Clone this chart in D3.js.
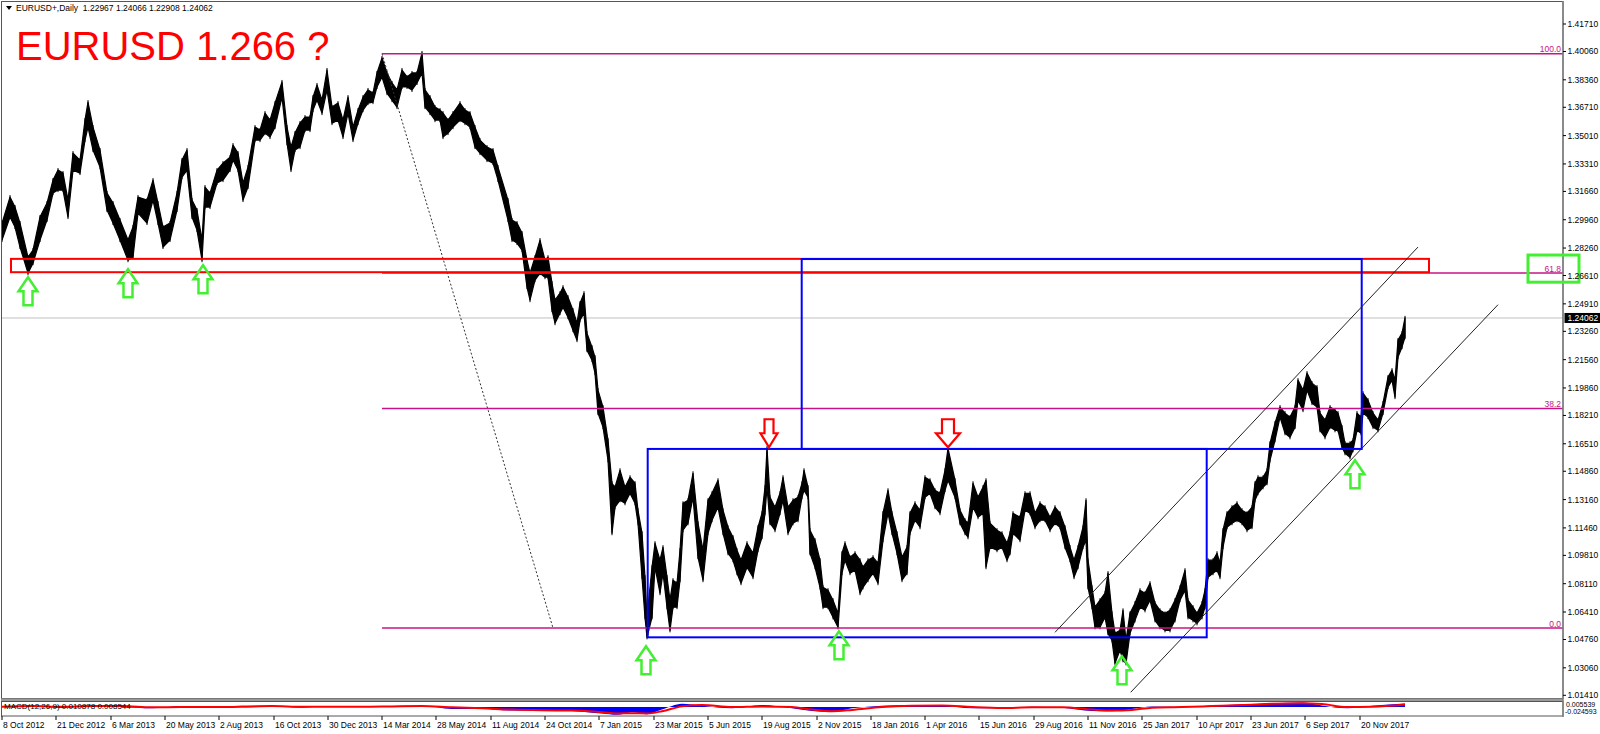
<!DOCTYPE html>
<html><head><meta charset="utf-8">
<script src="https://cdn.jsdelivr.net/npm/d3@7"></script>
<style>
body{margin:0;background:#fff;}
svg{display:block;}
text{font-family:"Liberation Sans",Arial,sans-serif;}
</style></head>
<body><svg id="c" width="1600" height="734"></svg>
<script>
// ---------------- DATA ----------------
const symbolTitle = "EURUSD+,Daily  1.22967 1.24066 1.22908 1.24062";
const headline = "EURUSD 1.266 ?";
const lastClose = 1.24062;

// bar number (daily bars counted from 8 Oct 2012), sampled envelope highs / lows
const bars = [
 0,8,13,18,26,31,38,45,51,56,61,66,71,78,83,86,91,98,105,111,118,126,131,136,145,151,156,161,168,175,180,185,190,195,200,203,208,215,221,228,231,236,241,246,
 253,258,263,268,273,280,285,289,293,298,303,308,311,315,320,325,330,336,341,346,351,356,361,366,371,375,380,385,390,395,400,405,410,415,420,423,428,433,438,441,446,451,458,463,468,473,478,485,491,496,
 506,510,515,520,525,528,533,538,543,546,550,553,558,561,566,571,575,578,582,585,590,593,596,601,606,610,613,618,623,628,633,636,640,643,645,650,653,658,661,665,668,671,675,678,681,686,691,696,701,706,
 710,716,721,726,731,735,739,745,751,756,760,763,765,768,773,778,781,786,791,796,800,802,806,808,813,818,821,826,831,836,840,843,848,853,858,861,866,871,876,881,886,890,895,900,905,908,913,918,923,928,933,938,943,946,
 953,958,963,966,971,976,981,984,988,995,1000,1005,1008,1011,1018,1023,1028,1033,1038,1043,1048,1053,1058,1063,1068,1072,1076,1081,1084,1086,1090,1093,1098,1103,1106,1110,1113,1118,1121,1124,1128,1133,1138,1143,1148,1153,1158,1163,1168,
 1173,1178,1183,1186,1191,1195,1200,1203,1206,1211,1215,1218,1221,1225,1230,1235,1240,1245,1250,1253,1256,1261,1265,1268,1273,1278,1283,1288,1293,1296,1301,1305,1310,1315,1318,1323,1328,1333,1336,1340,1343,1348,1351,1355,1359,1361,1366,1371,1376,1381,1386,1390,1393,1396,1400,1403
];
const highs = [
 1.2976,1.3132,1.3072,1.2976,1.2771,1.2814,1.3012,1.3096,1.3234,1.3294,1.3276,1.3114,1.3396,1.3354,1.3594,1.3702,1.3552,1.3414,1.3156,1.3096,1.2994,1.2874,1.2952,1.3132,1.3114,1.3234,1.3096,1.2952,1.2976,1.3156,1.3354,1.3414,1.3114,1.3054,1.2874,1.3192,1.3156,1.3294,1.3336,1.3372,1.3444,1.3396,1.3216,1.3312,
 1.3552,1.3534,1.3636,1.3594,1.3696,1.3823,1.3552,1.3432,1.3516,1.3576,1.3612,1.3612,1.3732,1.3805,1.3714,1.3895,1.3672,1.3696,1.3594,1.3732,1.3552,1.3654,1.3732,1.3775,1.3756,1.3877,1.3967,1.3877,1.3817,1.3775,1.3895,1.3853,1.3877,1.3877,1.3997,1.3775,1.3732,1.3672,1.3654,1.3636,1.3594,1.3636,1.3696,1.3654,1.3636,1.3552,1.3474,1.3432,1.3414,1.3312,
 1.3114,1.2994,1.2976,1.2916,1.2753,1.2675,1.2771,1.2874,1.2753,1.2771,1.2615,1.2513,1.2555,1.2591,1.2531,1.2453,1.2375,1.2495,1.2555,1.2315,1.2231,1.2171,1.1973,1.1871,1.1672,1.1414,1.1390,1.1492,1.1390,1.1450,1.1414,1.1252,1.1114,1.0850,1.0609,1.0910,1.1054,1.0952,1.1030,1.0850,1.0712,1.0832,1.0814,1.1012,1.1294,1.1312,1.1474,1.1174,1.1012,1.1312,
 1.1354,1.1432,1.1252,1.1150,1.1090,1.1012,1.0952,1.1054,1.0994,1.1150,1.1234,1.1390,1.1625,1.1330,1.1270,1.1354,1.1450,1.1270,1.1312,1.1330,1.1414,1.1492,1.1390,1.1132,1.1072,1.0952,1.0789,1.0772,1.0712,1.0633,1.0994,1.1054,1.0970,1.0994,1.0952,1.0910,1.0952,1.0970,1.0934,1.1234,1.1372,1.1234,1.1114,1.0970,1.1030,1.1234,1.1294,1.1252,1.1450,1.1432,1.1372,1.1354,1.1492,1.1624,
 1.1432,1.1252,1.1192,1.1174,1.1414,1.1330,1.1390,1.1432,1.1174,1.1132,1.1114,1.1054,1.1114,1.1234,1.1210,1.1354,1.1354,1.1234,1.1294,1.1270,1.1210,1.1270,1.1234,1.1150,1.1030,1.0952,1.1030,1.1150,1.1312,1.0952,1.0789,1.0670,1.0712,1.0754,1.0874,1.0633,1.0513,1.0531,1.0651,1.0471,1.0633,1.0694,1.0772,1.0754,1.0814,1.0694,1.0651,1.0633,1.0651,
 1.0712,1.0789,1.0892,1.0712,1.0670,1.0633,1.0694,1.0772,1.0952,1.0952,1.0994,1.0934,1.1132,1.1234,1.1270,1.1294,1.1252,1.1234,1.1270,1.1414,1.1450,1.1450,1.1492,1.1654,1.1775,1.1871,1.1835,1.1811,1.1871,1.2033,1.1973,1.2075,1.2015,1.1991,1.1835,1.1793,1.1871,1.1853,1.1835,1.1751,1.1654,1.1654,1.1672,1.1835,1.1811,1.1955,1.1913,1.1835,1.1793,1.1895,1.2051,1.2093,1.2033,1.2273,1.2315,1.2407
];
const lows = [
 1.2874,1.3012,1.2952,1.2832,1.2675,1.2735,1.2874,1.2994,1.3156,1.3174,1.3174,1.3012,1.3294,1.3276,1.3474,1.3552,1.3414,1.3312,1.3054,1.2976,1.2874,1.2753,1.2771,1.3036,1.2976,1.3114,1.2976,1.2832,1.2874,1.3054,1.3252,1.3294,1.3012,1.2934,1.2753,1.3072,1.3072,1.3216,1.3234,1.3294,1.3354,1.3294,1.3114,1.3192,
 1.3474,1.3474,1.3516,1.3492,1.3552,1.3732,1.3456,1.3294,1.3414,1.3432,1.3534,1.3534,1.3654,1.3714,1.3636,1.3775,1.3576,1.3594,1.3492,1.3636,1.3474,1.3576,1.3654,1.3696,1.3702,1.3793,1.3853,1.3756,1.3714,1.3672,1.3793,1.3793,1.3775,1.3817,1.3877,1.3672,1.3636,1.3594,1.3594,1.3492,1.3516,1.3552,1.3594,1.3576,1.3552,1.3432,1.3396,1.3354,1.3336,1.3234,
 1.2994,1.2874,1.2856,1.2814,1.2591,1.2513,1.2633,1.2675,1.2651,1.2651,1.2453,1.2375,1.2435,1.2471,1.2411,1.2333,1.2273,1.2393,1.2435,1.2213,1.2153,1.2075,1.1835,1.1751,1.1552,1.1114,1.1270,1.1312,1.1294,1.1354,1.1294,1.1174,1.0850,1.0609,1.0489,1.0609,1.0910,1.0754,1.0874,1.0670,1.0531,1.0670,1.0670,1.0832,1.1132,1.1174,1.1330,1.0970,1.0832,1.1114,
 1.1192,1.1270,1.1114,1.0994,1.0952,1.0874,1.0814,1.0910,1.0850,1.1012,1.1090,1.1234,1.1390,1.1174,1.1132,1.1234,1.1312,1.1114,1.1174,1.1192,1.1330,1.1372,1.1330,1.0994,1.0910,1.0789,1.0670,1.0670,1.0609,1.0549,1.0874,1.0952,1.0874,1.0892,1.0754,1.0789,1.0832,1.0874,1.0814,1.1072,1.1234,1.1114,1.0994,1.0832,1.0874,1.1114,1.1192,1.1150,1.1330,1.1354,1.1270,1.1234,1.1372,1.1432,
 1.1330,1.1174,1.1114,1.1090,1.1270,1.1210,1.1234,1.0910,1.1030,1.1012,1.1030,1.0952,1.0994,1.1114,1.1072,1.1252,1.1234,1.1150,1.1192,1.1192,1.1132,1.1174,1.1150,1.1030,1.0952,1.0850,1.0910,1.1030,1.1072,1.0789,1.0670,1.0549,1.0549,1.0609,1.0513,1.0471,1.0333,1.0411,1.0351,1.0333,1.0513,1.0591,1.0670,1.0651,1.0712,1.0591,1.0549,1.0531,1.0531,
 1.0591,1.0712,1.0772,1.0609,1.0591,1.0573,1.0609,1.0670,1.0850,1.0874,1.0892,1.0850,1.1030,1.1150,1.1174,1.1192,1.1174,1.1132,1.1150,1.1312,1.1354,1.1390,1.1414,1.1552,1.1672,1.1811,1.1714,1.1690,1.1751,1.1913,1.1853,1.1973,1.1895,1.1871,1.1732,1.1690,1.1751,1.1732,1.1732,1.1630,1.1594,1.1570,1.1612,1.1732,1.1714,1.1835,1.1811,1.1751,1.1732,1.1835,1.1991,1.2033,1.1931,1.2171,1.2231,1.2291
];

// price axis tick labels
const priceTicks = [1.41710,1.40060,1.38360,1.36710,1.35010,1.33310,1.31660,1.29960,1.28260,1.26610,1.24910,1.23260,1.21560,1.19860,1.18210,1.16510,1.14860,1.13160,1.11460,1.09810,1.08110,1.06410,1.04760,1.03060,1.01410];

// time axis labels
const dateLabels = ["8 Oct 2012","21 Dec 2012","6 Mar 2013","20 May 2013","2 Aug 2013","16 Oct 2013","30 Dec 2013","14 Mar 2014","28 May 2014","11 Aug 2014","24 Oct 2014","7 Jan 2015","23 Mar 2015","5 Jun 2015","19 Aug 2015","2 Nov 2015","18 Jan 2016","1 Apr 2016","15 Jun 2016","29 Aug 2016","11 Nov 2016","25 Jan 2017","10 Apr 2017","23 Jun 2017","6 Sep 2017","20 Nov 2017"];
const dateLabelBars = [0,54,109,163,217,272,326,380,434,489,543,597,652,706,760,815,869,923,977,1032,1086,1140,1195,1249,1303,1358];

// Fibonacci retracement
const fibLevels = [100.0, 61.8, 38.2, 0.0];
const fibHighPrice = 1.3993, fibLowPrice = 1.0545;
const fibStartBar = 380, fibEndBar = 551;

// rectangles: [bar1, price1, bar2, price2]
const blueBoxes = [[645.7, 1.1620, 1204.7, 1.0489], [799.7, 1.2760, 1359.7, 1.1620]];
const redZone = [9, 1.2761, 1427, 1.2681];
const greenBox = [1526, 1.2784, 1577, 1.2621];

// channel lines: [bar1, price1, bar2, price2]
const channelLines = [[1053, 1.0519, 1416, 1.2832], [1128.7, 1.0159, 1496, 1.2486]];

// arrows: bar, tip price
const upArrowBars = [26, 126, 201, 644, 837, 1120, 1353];
const upArrowPrices = [1.2651, 1.2699, 1.2723, 1.0435, 1.0525, 1.0375, 1.1552];
const downArrowBars = [767, 946];
const downArrowPrices = [1.1630, 1.1630];

// MACD(12,26,9)
const macdBars = [0,30,60,90,120,150,180,210,240,270,300,330,360,390,420,450,480,510,540,570,600,615,630,645,660,680,700,730,760,790,810,830,850,880,910,940,970,1000,1030,1060,1090,1110,1130,1150,1180,1210,1240,1270,1300,1320,1345,1370,1403];
const macdMain = [0.002,0.004,-0.003,0.006,0.000,-0.004,0.003,-0.003,0.004,0.004,-0.002,0.003,0.000,0.003,0.004,-0.006,-0.005,-0.011,-0.010,-0.012,-0.020,-0.024,-0.016,-0.022,-0.008,0.010,0.004,-0.004,0.006,-0.004,-0.012,-0.015,-0.004,0.004,0.006,0.005,-0.004,-0.003,0.001,-0.002,-0.012,-0.013,-0.006,0.002,0.000,0.005,0.008,0.012,0.014,0.005,-0.004,0.004,0.011];
const macdSignal = [0.001,0.003,0.001,0.003,0.003,-0.001,0.000,0.000,0.001,0.003,0.001,0.001,0.001,0.002,0.003,-0.001,-0.004,-0.008,-0.010,-0.011,-0.016,-0.020,-0.019,-0.020,-0.013,0.002,0.006,0.000,0.002,0.000,-0.008,-0.013,-0.009,0.000,0.004,0.005,0.000,-0.003,-0.001,-0.001,-0.008,-0.011,-0.009,-0.002,0.000,0.003,0.006,0.010,0.012,0.009,0.000,0.001,0.008];
const macdText = "MACD(12,26,9) 0.010878 0.008544";
const macdMaxLabel = "0.005539", macdMinLabel = "-0.024593";
const macdRange = [-0.0246, 0.0155];

// ---------------- DRAW ----------------
const svg = d3.select("#c");
const axisX = 1563;
const x = d3.scaleLinear().domain([0, 1403]).range([2, 1405]);
const y = d3.scaleLinear().domain([1.01410, 1.41710]).range([695.3, 24]);
const ym = d3.scaleLinear().domain(macdRange).range([715, 702]);

const MAG = "#C71585", GREEN = "#44ee33", RED = "#ff0000", BLUE = "#0000ff";
const FS = 8.5;

svg.append("rect").attr("width", 1600).attr("height", 734).attr("fill", "#fff");

const defs = svg.append("defs");
defs.append("clipPath").attr("id", "mainClip").append("rect").attr("x", 1).attr("y", 2).attr("width", axisX - 1).attr("height", 696);
defs.append("clipPath").attr("id", "subClip").append("rect").attr("x", 1).attr("y", 702).attr("width", axisX - 1).attr("height", 14);

const main = svg.append("g").attr("clip-path", "url(#mainClip)");

// current price line
main.append("line").attr("x1", 1).attr("x2", axisX).attr("y1", y(lastClose)).attr("y2", y(lastClose))
  .attr("stroke", "#c0c0c0").attr("stroke-width", 1);

// price bars (envelope of daily bars)
const pts = bars.map((b, i) => ({b, h: highs[i], l: lows[i]}));
main.append("path").datum(pts)
  .attr("d", d3.area().x(d => x(d.b)).y0(d => y(d.l)).y1(d => y(d.h)))
  .attr("fill", "#000").attr("stroke", "#000").attr("stroke-width", 1.2).attr("stroke-linejoin", "round");
// individual sample bars to give the daily-bar texture
main.append("g").selectAll("line").data(pts).join("line")
  .attr("x1", d => x(d.b)).attr("x2", d => x(d.b))
  .attr("y1", d => y(d.h) - 2).attr("y2", d => y(d.l) + 2)
  .attr("stroke", "#000").attr("stroke-width", 1);

// fib dotted trend line
main.append("line").attr("x1", x(fibStartBar)).attr("y1", y(fibHighPrice)).attr("x2", x(fibEndBar)).attr("y2", y(fibLowPrice))
  .attr("stroke", "#333").attr("stroke-width", 1).attr("stroke-dasharray", "2,2");

// fib levels
fibLevels.forEach(lv => {
  const p = fibLowPrice + (fibHighPrice - fibLowPrice) * lv / 100;
  main.append("line").attr("x1", x(fibStartBar)).attr("x2", axisX).attr("y1", y(p)).attr("y2", y(p))
    .attr("stroke", MAG).attr("stroke-width", 1.5);
  main.append("text").attr("x", axisX - 2).attr("y", y(p) - 1.5).attr("text-anchor", "end")
    .attr("font-size", FS).attr("fill", MAG).text(lv.toFixed(1));
});

// red zone
main.append("rect").attr("x", x(redZone[0])).attr("y", y(redZone[1]))
  .attr("width", x(redZone[2]) - x(redZone[0])).attr("height", y(redZone[3]) - y(redZone[1]))
  .attr("fill", "none").attr("stroke", RED).attr("stroke-width", 2);

// blue boxes
blueBoxes.forEach(bx => {
  main.append("rect").attr("x", x(bx[0])).attr("y", y(bx[1]))
    .attr("width", x(bx[2]) - x(bx[0])).attr("height", y(bx[3]) - y(bx[1]))
    .attr("fill", "none").attr("stroke", BLUE).attr("stroke-width", 2);
});

// channel lines
channelLines.forEach(c => {
  main.append("line").attr("x1", x(c[0])).attr("y1", y(c[1])).attr("x2", x(c[2])).attr("y2", y(c[3]))
    .attr("stroke", "#222").attr("stroke-width", 1);
});

// arrows
function upArrow(cx, ty, w, h, hh, sw) {
  return `M${cx},${ty} L${cx + w / 2},${ty + hh} L${cx + sw / 2},${ty + hh} L${cx + sw / 2},${ty + h} L${cx - sw / 2},${ty + h} L${cx - sw / 2},${ty + hh} L${cx - w / 2},${ty + hh} Z`;
}
function downArrow(cx, ty, w, h, hh, sw) {
  return `M${cx},${ty} L${cx + w / 2},${ty - hh} L${cx + sw / 2},${ty - hh} L${cx + sw / 2},${ty - h} L${cx - sw / 2},${ty - h} L${cx - sw / 2},${ty - hh} L${cx - w / 2},${ty - hh} Z`;
}
upArrowBars.forEach((b, i) => {
  main.append("path").attr("d", upArrow(x(b), y(upArrowPrices[i]), 19, 28, 14, 9))
    .attr("fill", "none").attr("stroke", GREEN).attr("stroke-width", 2.5).attr("stroke-linejoin", "miter");
});
downArrowBars.forEach((b, i) => {
  const w = i === 0 ? 17 : 24, sw = i === 0 ? 9 : 12;
  main.append("path").attr("d", downArrow(x(b), y(downArrowPrices[i]), w, 28, 14, sw))
    .attr("fill", "none").attr("stroke", RED).attr("stroke-width", 2.2).attr("stroke-linejoin", "miter");
});

// headline text
svg.append("text").attr("x", 16).attr("y", 59.5).attr("font-size", 40).attr("fill", RED).text(headline);

// title
svg.append("path").attr("d", "M6,6 L12,6 L9,10 Z").attr("fill", "#000");
svg.append("text").attr("x", 16).attr("y", 11).attr("font-size", FS).attr("fill", "#000").attr("xml:space", "preserve").text(symbolTitle);

// frames
svg.append("rect").attr("x", 1.5).attr("y", 1.5).attr("width", axisX - 1.5).attr("height", 697).attr("fill", "none").attr("stroke", "#555").attr("stroke-width", 1);
svg.append("rect").attr("x", 1).attr("y", 698.5).attr("width", axisX - 1).attr("height", 3).attr("fill", "#999");
svg.append("rect").attr("x", 1.5).attr("y", 701.5).attr("width", axisX - 1.5).attr("height", 14.5).attr("fill", "none").attr("stroke", "#555").attr("stroke-width", 1);
svg.append("line").attr("x1", axisX).attr("x2", axisX).attr("y1", 1).attr("y2", 717).attr("stroke", "#808080").attr("stroke-width", 1.5);

// green box (around 61.8 label)
svg.append("rect").attr("x", x(greenBox[0])).attr("y", y(greenBox[1]))
  .attr("width", x(greenBox[2]) - x(greenBox[0])).attr("height", y(greenBox[3]) - y(greenBox[1]))
  .attr("fill", "none").attr("stroke", GREEN).attr("stroke-width", 3);

// price axis
const pa = svg.append("g");
priceTicks.forEach(t => {
  pa.append("line").attr("x1", axisX).attr("x2", axisX + 3).attr("y1", y(t)).attr("y2", y(t)).attr("stroke", "#000");
  pa.append("text").attr("x", axisX + 4.5).attr("y", y(t) + 3).attr("font-size", FS).attr("fill", "#000").text(t.toFixed(5));
});
pa.append("rect").attr("x", axisX + 1.5).attr("y", y(lastClose) - 5).attr("width", 36).attr("height", 10).attr("fill", "#000");
pa.append("text").attr("x", axisX + 4.5).attr("y", y(lastClose) + 3).attr("font-size", FS).attr("fill", "#fff").text(lastClose.toFixed(5));

// time axis
dateLabelBars.forEach((b, i) => {
  svg.append("line").attr("x1", x(b)).attr("x2", x(b)).attr("y1", 716).attr("y2", 720).attr("stroke", "#000");
  svg.append("text").attr("x", x(b) + 1).attr("y", 728).attr("font-size", FS).attr("fill", "#000").text(dateLabels[i]);
});

// MACD sub window
const sub = svg.append("g").attr("clip-path", "url(#subClip)");
const mpts = macdBars.map((b, i) => ({b, m: macdMain[i], s: macdSignal[i]}));
sub.append("path").datum(mpts)
  .attr("d", d3.area().x(d => x(d.b)).y0(ym(0)).y1(d => ym(d.m)).curve(d3.curveMonotoneX))
  .attr("fill", BLUE);
sub.append("path").datum(mpts)
  .attr("d", d3.line().x(d => x(d.b)).y(d => ym(d.s)).curve(d3.curveMonotoneX))
  .attr("fill", "none").attr("stroke", RED).attr("stroke-width", 2);
svg.append("text").attr("x", 4).attr("y", 709).attr("font-size", 8).attr("fill", "#000").text(macdText);
svg.append("text").attr("x", axisX + 3).attr("y", 707).attr("font-size", 7).attr("fill", "#000").text(macdMaxLabel);
svg.append("text").attr("x", axisX + 2).attr("y", 714).attr("font-size", 7).attr("fill", "#000").text(macdMinLabel);
</script>
</body></html>
